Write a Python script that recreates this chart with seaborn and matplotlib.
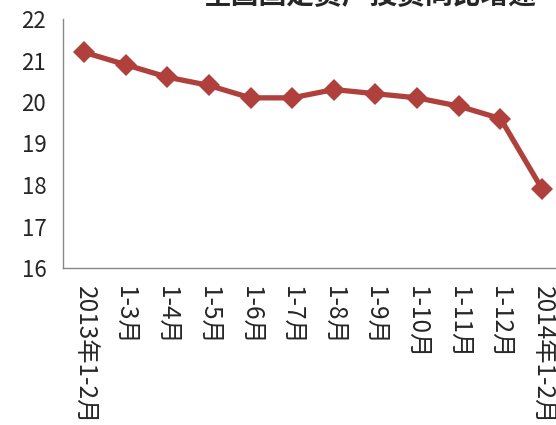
import matplotlib
matplotlib.use("Agg")
import matplotlib.pyplot as plt
import seaborn as sns
import pandas as pd
from matplotlib.ticker import FixedLocator, NullFormatter

sns.set_style("white")
plt.rcParams['font.family'] = ['Noto Sans CJK SC', 'DejaVu Sans']

categories = ["2013年1-2月", "1-3月", "1-4月", "1-5月", "1-6月", "1-7月", "1-8月",
              "1-9月", "1-10月", "1-11月", "1-12月", "2014年1-2月"]
values = [21.2, 20.9, 20.6, 20.4, 20.1, 20.1, 20.3, 20.2, 20.1, 19.9, 19.6, 17.9]
title = "全国固定资产投资同比增速"

df = pd.DataFrame({"cat": categories, "val": values})

fig = plt.figure(figsize=(5.56, 4.25), dpi=100)
ax = fig.add_axes([63/556, 1-268/425, 500/556, (268-19)/425])

sns.lineplot(data=df, x="cat", y="val", ax=ax, sort=False, color="#B0403C",
             linewidth=3.8, marker="D", markersize=11, markeredgewidth=0)

n = len(categories)
ax.set_xlim(-0.5, n-0.5)
ax.set_ylim(16, 22)
ax.set_yticks(range(16, 23))
ax.set_xticks(range(n))
ax.set_xticklabels(categories, rotation=-90, va="top", ha="center", fontsize=17.5)
ax.tick_params(axis="x", which="major", length=0, pad=13)
ax.xaxis.set_minor_locator(FixedLocator([i-0.5 for i in range(n+1)]))
ax.xaxis.set_minor_formatter(NullFormatter())
ax.tick_params(axis="x", which="minor", length=6, color="#888888", width=1, direction="out")
ax.tick_params(axis="y", length=6, color="#888888", width=1, direction="out", labelsize=16, pad=6)
ax.set_xlabel("")
ax.set_ylabel("")
for s in ["top", "right"]:
    ax.spines[s].set_visible(False)
for s in ["left", "bottom"]:
    ax.spines[s].set_color("#888888")
    ax.spines[s].set_linewidth(1)

fig.text(370/556, 1 + 4/425, title, ha="center", va="center", fontsize=20, fontweight="bold")

fig.savefig("out.png", dpi=100)
